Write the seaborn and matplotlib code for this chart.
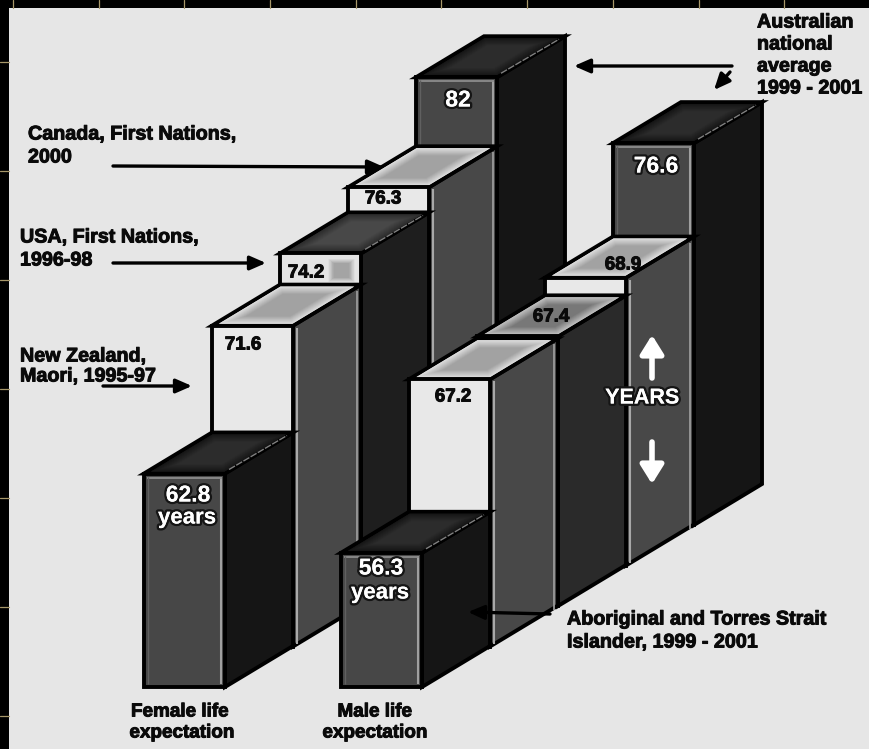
import numpy as np
import pandas as pd
import matplotlib
matplotlib.use("Agg")
import matplotlib.pyplot as plt
import matplotlib.patheffects as pe
from matplotlib.colors import to_rgb
from matplotlib.patches import Polygon, Rectangle
import seaborn as sns

# life expectancy in years, front of the chart to the back
female_values = [62.8, 71.6, 74.2, 76.3, 82]
male_values = [56.3, 67.2, 67.4, 68.9, 76.6]
populations = ["Aboriginal and Torres Strait Islander", "New Zealand Maori",
               "USA First Nations", "Canada First Nations", "Australia"]
bar_styles = ["dark", "light", "mid", "light", "dark"]
male_styles = ["dark", "light", "strip", "light", "dark"]

W, H = 870, 749
BG = "#e6e6e6"
FLOOR_YEARS = 45.3   # the value axis does not start at zero
PX_PER_YEAR = 12.2
BAR_W = 81
STEP_X, STEP_Y = 68, -40.5
DEPTH_X, DEPTH_Y = 68, -41
FLOOR_Y = 687
AX_H = 470
EDGE = 2.8

LOOKS = {
    # front, side, top rim, top centre
    "dark": ("#474747", "#151515", "#141414", "#2c2c2c"),
    "light": ("#e8e8e8", "#484848", "#e2e2e2", "#a2a2a2"),
    "mid": ("#e4e4e4", "#1e1e1e", "#2a2a2a", "#484848"),
    "strip": ("#000000", "#2a2a2a", "#c4c4c4", "#787878"),
}

sns.set_theme(style="white")
plt.rcParams["font.family"] = ["Liberation Sans", "DejaVu Sans"]
plt.rcParams["font.weight"] = "bold"

fig = plt.figure(figsize=(W / 100, H / 100), dpi=100, facecolor="black")

# pixel space for the frame, texts and the 3D faces
base = fig.add_axes([0, 0, 1, 1], zorder=0)
base.set_xlim(0, W)
base.set_ylim(H, 0)
base.axis("off")
base.add_patch(Rectangle((9, 8), W - 9, H - 8, facecolor=BG, edgecolor="none"))
for x in np.arange(13, W, 85.7):
    base.plot([x, x], [0, 8], color="#a8986a", lw=0.9)
for y in np.arange(62, 730, 109):
    base.plot([0, 9], [y, y], color="#a8986a", lw=0.9)


def shaded_face(ax, corners, rim, centre, edge=True, zorder=0.5):
    """Parallelogram that fades from rim to centre."""
    corners = np.array(corners, dtype=float)
    middle = corners.mean(axis=0)
    ax.add_patch(Polygon(corners, closed=True, facecolor=rim,
                         edgecolor="black" if edge else "none", lw=EDGE,
                         transform=base.transData, clip_on=False, zorder=zorder))
    rim_rgb, centre_rgb = np.array(to_rgb(rim)), np.array(to_rgb(centre))
    for t in np.linspace(0.1, 1, 10):
        shrink = 0.95 - 0.4 * t
        pts = middle + (corners - middle) * shrink
        ax.add_patch(Polygon(pts, closed=True, facecolor=rim_rgb + (centre_rgb - rim_rgb) * t,
                             edgecolor="none", transform=base.transData,
                             clip_on=False, zorder=zorder + 0.1))


def draw_bar(value, slot, start_x, style):
    front, side, top_rim, top_centre = LOOKS[style]
    left = start_x + slot * STEP_X
    floor = FLOOR_Y + slot * STEP_Y
    ax = fig.add_axes([left / W, 1 - floor / H, BAR_W / W, AX_H / H], zorder=1)
    frame = pd.DataFrame({"population": [populations[slot]], "rise": [value - FLOOR_YEARS]})
    sns.barplot(data=frame, x="population", y="rise", color=front, saturation=1,
                width=1, edgecolor="black", linewidth=EDGE, errorbar=None, ax=ax)
    ax.set_xlim(-0.5, 0.5)
    ax.set_ylim(0, AX_H / PX_PER_YEAR)
    ax.axis("off")

    # faces come from the bar seaborn drew
    bar = ax.patches[0]
    bar.set_clip_on(False)
    to_px = ax.transData + base.transData.inverted()
    (x0, y1), (x1, y0) = to_px.transform(
        [(bar.get_x(), bar.get_y()), (bar.get_x() + bar.get_width(), bar.get_y() + bar.get_height())])

    side_pts = [(x1, y0), (x1 + DEPTH_X, y0 + DEPTH_Y), (x1 + DEPTH_X, y1 + DEPTH_Y), (x1, y1)]
    ax.add_patch(Polygon(side_pts, closed=True, facecolor=side, edgecolor="black", lw=EDGE,
                         transform=base.transData, clip_on=False, zorder=0.5))
    top_pts = [(x0, y0), (x0 + DEPTH_X, y0 + DEPTH_Y), (x1 + DEPTH_X, y0 + DEPTH_Y), (x1, y0)]
    shaded_face(ax, top_pts, top_rim, top_centre)

    line = dict(transform=base.transData, clip_on=False, zorder=2, solid_capstyle="butt")
    if style == "light":
        # pale strips down the grey side
        ax.plot([x1 + 4, x1 + 4], [y0 + 2, y1 - 3], color="#a8a8a8", lw=1.5, **line)
        ax.plot([x1 + DEPTH_X - 4, x1 + DEPTH_X - 4], [y0 + DEPTH_Y + 6, y1 + DEPTH_Y + 4],
                color="#9a9a9a", lw=1.3, **line)
    if style == "dark":
        # glow around the grey front
        ax.plot([x1 - 4, x1 - 4], [y0 + 3, y1 - 3], color="#a0a0a0", lw=1.5, **line)
        ax.plot([x0 + 3, x1 - 3], [y0 + 4, y0 + 4], color="#8c8c8c", lw=1.3, **line)
        ax.plot([x0 + 4, x0 + 4], [y0 + 3, y1 - 3], color="#606060", lw=1.0, **line)
    if style in ("dark", "mid"):
        ax.plot([x1 + 4, x1 + DEPTH_X - 6], [y0 - 4, y0 + DEPTH_Y + 3],
                color="#808080", lw=1.0, ls=(0, (5, 1)), **line)
    if style == "mid":
        # grey smudge on the pale front
        shaded_face(ax, [(x1 - 34, y0 + 4), (x1 - 5, y0 + 4), (x1 - 5, y0 + 30), (x1 - 34, y0 + 30)],
                    front, "#a4a4a4", edge=False, zorder=1.5)
    return ax


# back bars first so the front ones cover them; the male block sits in front
for slot in reversed(range(5)):
    draw_bar(female_values[slot], slot, 144, bar_styles[slot])
for slot in reversed(range(5)):
    draw_bar(male_values[slot], slot, 341, male_styles[slot])

# overlay for labels and arrows
over = fig.add_axes([0, 0, 1, 1], zorder=3)
over.set_xlim(0, W)
over.set_ylim(H, 0)
over.axis("off")
over.patch.set_alpha(0)

glow = [pe.withStroke(linewidth=3.5, foreground="#151515"), pe.Normal()]
heavy = [pe.withStroke(linewidth=0.7, foreground="#0a0a0a")]
for value, (x, y) in zip(female_values, [(188, 495), (243, 345), (306, 273), (383, 199), (458, 100)]):
    white = value in (62.8, 82)
    over.text(x, y, f"{value:g}", ha="center", va="center",
              fontsize=16.5 if white else 13.5, color="white" if white else "#0a0a0a",
              path_effects=glow if white else heavy)
for value, (x, y) in zip(male_values, [(381, 568), (453, 397), (551, 317), (623, 265), (656, 166)]):
    white = value in (56.3, 76.6)
    over.text(x, y, f"{value:g}", ha="center", va="center",
              fontsize=16.5 if white else 13.5, color="white" if white else "#0a0a0a",
              path_effects=glow if white else heavy)
over.text(187, 518, "years", ha="center", va="center", fontsize=16, color="white", path_effects=glow)
over.text(380, 593, "years", ha="center", va="center", fontsize=16, color="white", path_effects=glow)

notes = [
    (757, 22, "Australian"), (757, 44, "national"), (757, 66, "average"), (757, 88, "1999 - 2001"),
    (28, 134, "Canada, First Nations,"), (28, 157, "2000"),
    (20, 237, "USA, First Nations,"), (20, 260, "1996-98"),
    (20, 356, "New Zealand,"), (20, 376, "Maori, 1995-97"),
    (567, 619, "Aboriginal and Torres Strait"), (567, 642, "Islander, 1999 - 2001"),
]
for x, y, text in notes:
    over.text(x, y, text, ha="left", va="center", fontsize=14.2, color="#0a0a0a", path_effects=heavy)
for x, y, text in [(180, 712, "Female life"), (182, 733, "expectation"),
                   (375, 712, "Male life"), (375, 733, "expectation")]:
    over.text(x, y, text, ha="center", va="center", fontsize=13.6, color="#0a0a0a", path_effects=heavy)

arrows = [((732, 66), (574, 66)), ((730, 72), (714, 90)), ((113, 166), (384, 167)),
          ((113, 263), (266, 263)), ((103, 386), (192, 386)), ((550, 614), (468, 612))]
for start, end in arrows:
    over.annotate("", xy=end, xytext=start,
                  arrowprops=dict(arrowstyle="-|>,head_width=0.35,head_length=0.8", color="black",
                                  lw=2.4, shrinkA=0, shrinkB=0))

over.text(642, 398, "YEARS", ha="center", va="center", fontsize=15.5, color="white",
          path_effects=glow)
for start, end in [((652, 378), (652, 335)), ((652, 442), (652, 484))]:
    over.annotate("", xy=end, xytext=start,
                  arrowprops=dict(arrowstyle="-|>,head_width=0.5,head_length=0.8", color="white",
                                  lw=4, shrinkA=0, shrinkB=0, mutation_scale=14))

fig.savefig("out.png", dpi=100, facecolor="black")
